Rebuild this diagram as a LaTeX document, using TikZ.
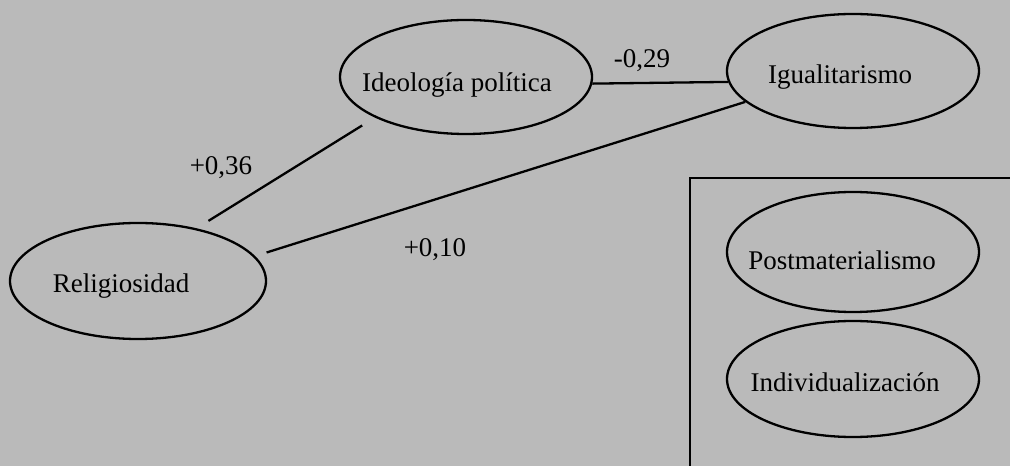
\documentclass[tikz,border=0pt]{standalone}
\usepackage{fontspec}
\setmainfont{Liberation Serif}
\usetikzlibrary{shapes.geometric}
\begin{document}
\begin{tikzpicture}[x=1pt,y=1pt,
  ell/.style={ellipse, draw=black, line width=2.3pt, inner sep=0pt},
  txt/.style={anchor=base, inner sep=0pt, font=\fontsize{27}{32}\selectfont},
  conn/.style={draw=black, line width=2.3pt}]
\fill[black!27] (0,0) rectangle (1010,466);
\useasboundingbox (0,0) rectangle (1010,466);
% ellipses
\node[ell, minimum width=252pt, minimum height=114pt] (ideo) at (466,389) {};
\node[ell, minimum width=252pt, minimum height=114pt] (igual) at (853,395) {};
\node[ell, minimum width=256pt, minimum height=116pt] (rel) at (138,185) {};
\node[ell, minimum width=252pt, minimum height=120pt] (post) at (853,214) {};
\node[ell, minimum width=252pt, minimum height=116pt] (indiv) at (853,87) {};
% texts
\node[txt] (ideot) at (457,374) {Ideología política};
\node[txt] (igualt) at (840,382) {Igualitarismo};
\node[txt] (relt) at (121,173) {Religiosidad};
\node[txt] (postt) at (842,196) {Postmaterialismo};
\node[txt] (indivt) at (845,74) {Individualización};
% coefficients
\node[txt] (c1) at (642,398) {-0,29};
\node[txt] (c2) at (221,291) {+0,36};
\node[txt] (c3) at (435,209) {+0,10};
% connectors
\draw[conn] (ideo.-3) -- (igual.185);
\draw[conn, shorten <=14pt, shorten >=15pt] (rel.42) -- (ideo.204);
\draw[conn, shorten <=12pt] (rel.12) -- (igual.196);
% box
\coordinate (bl) at (690,0);
\coordinate (tl) at (690,288);
\coordinate (tr) at (1010,288);
\draw[conn] (bl) -- (tl) -- (tr);
\end{tikzpicture}
\end{document}
